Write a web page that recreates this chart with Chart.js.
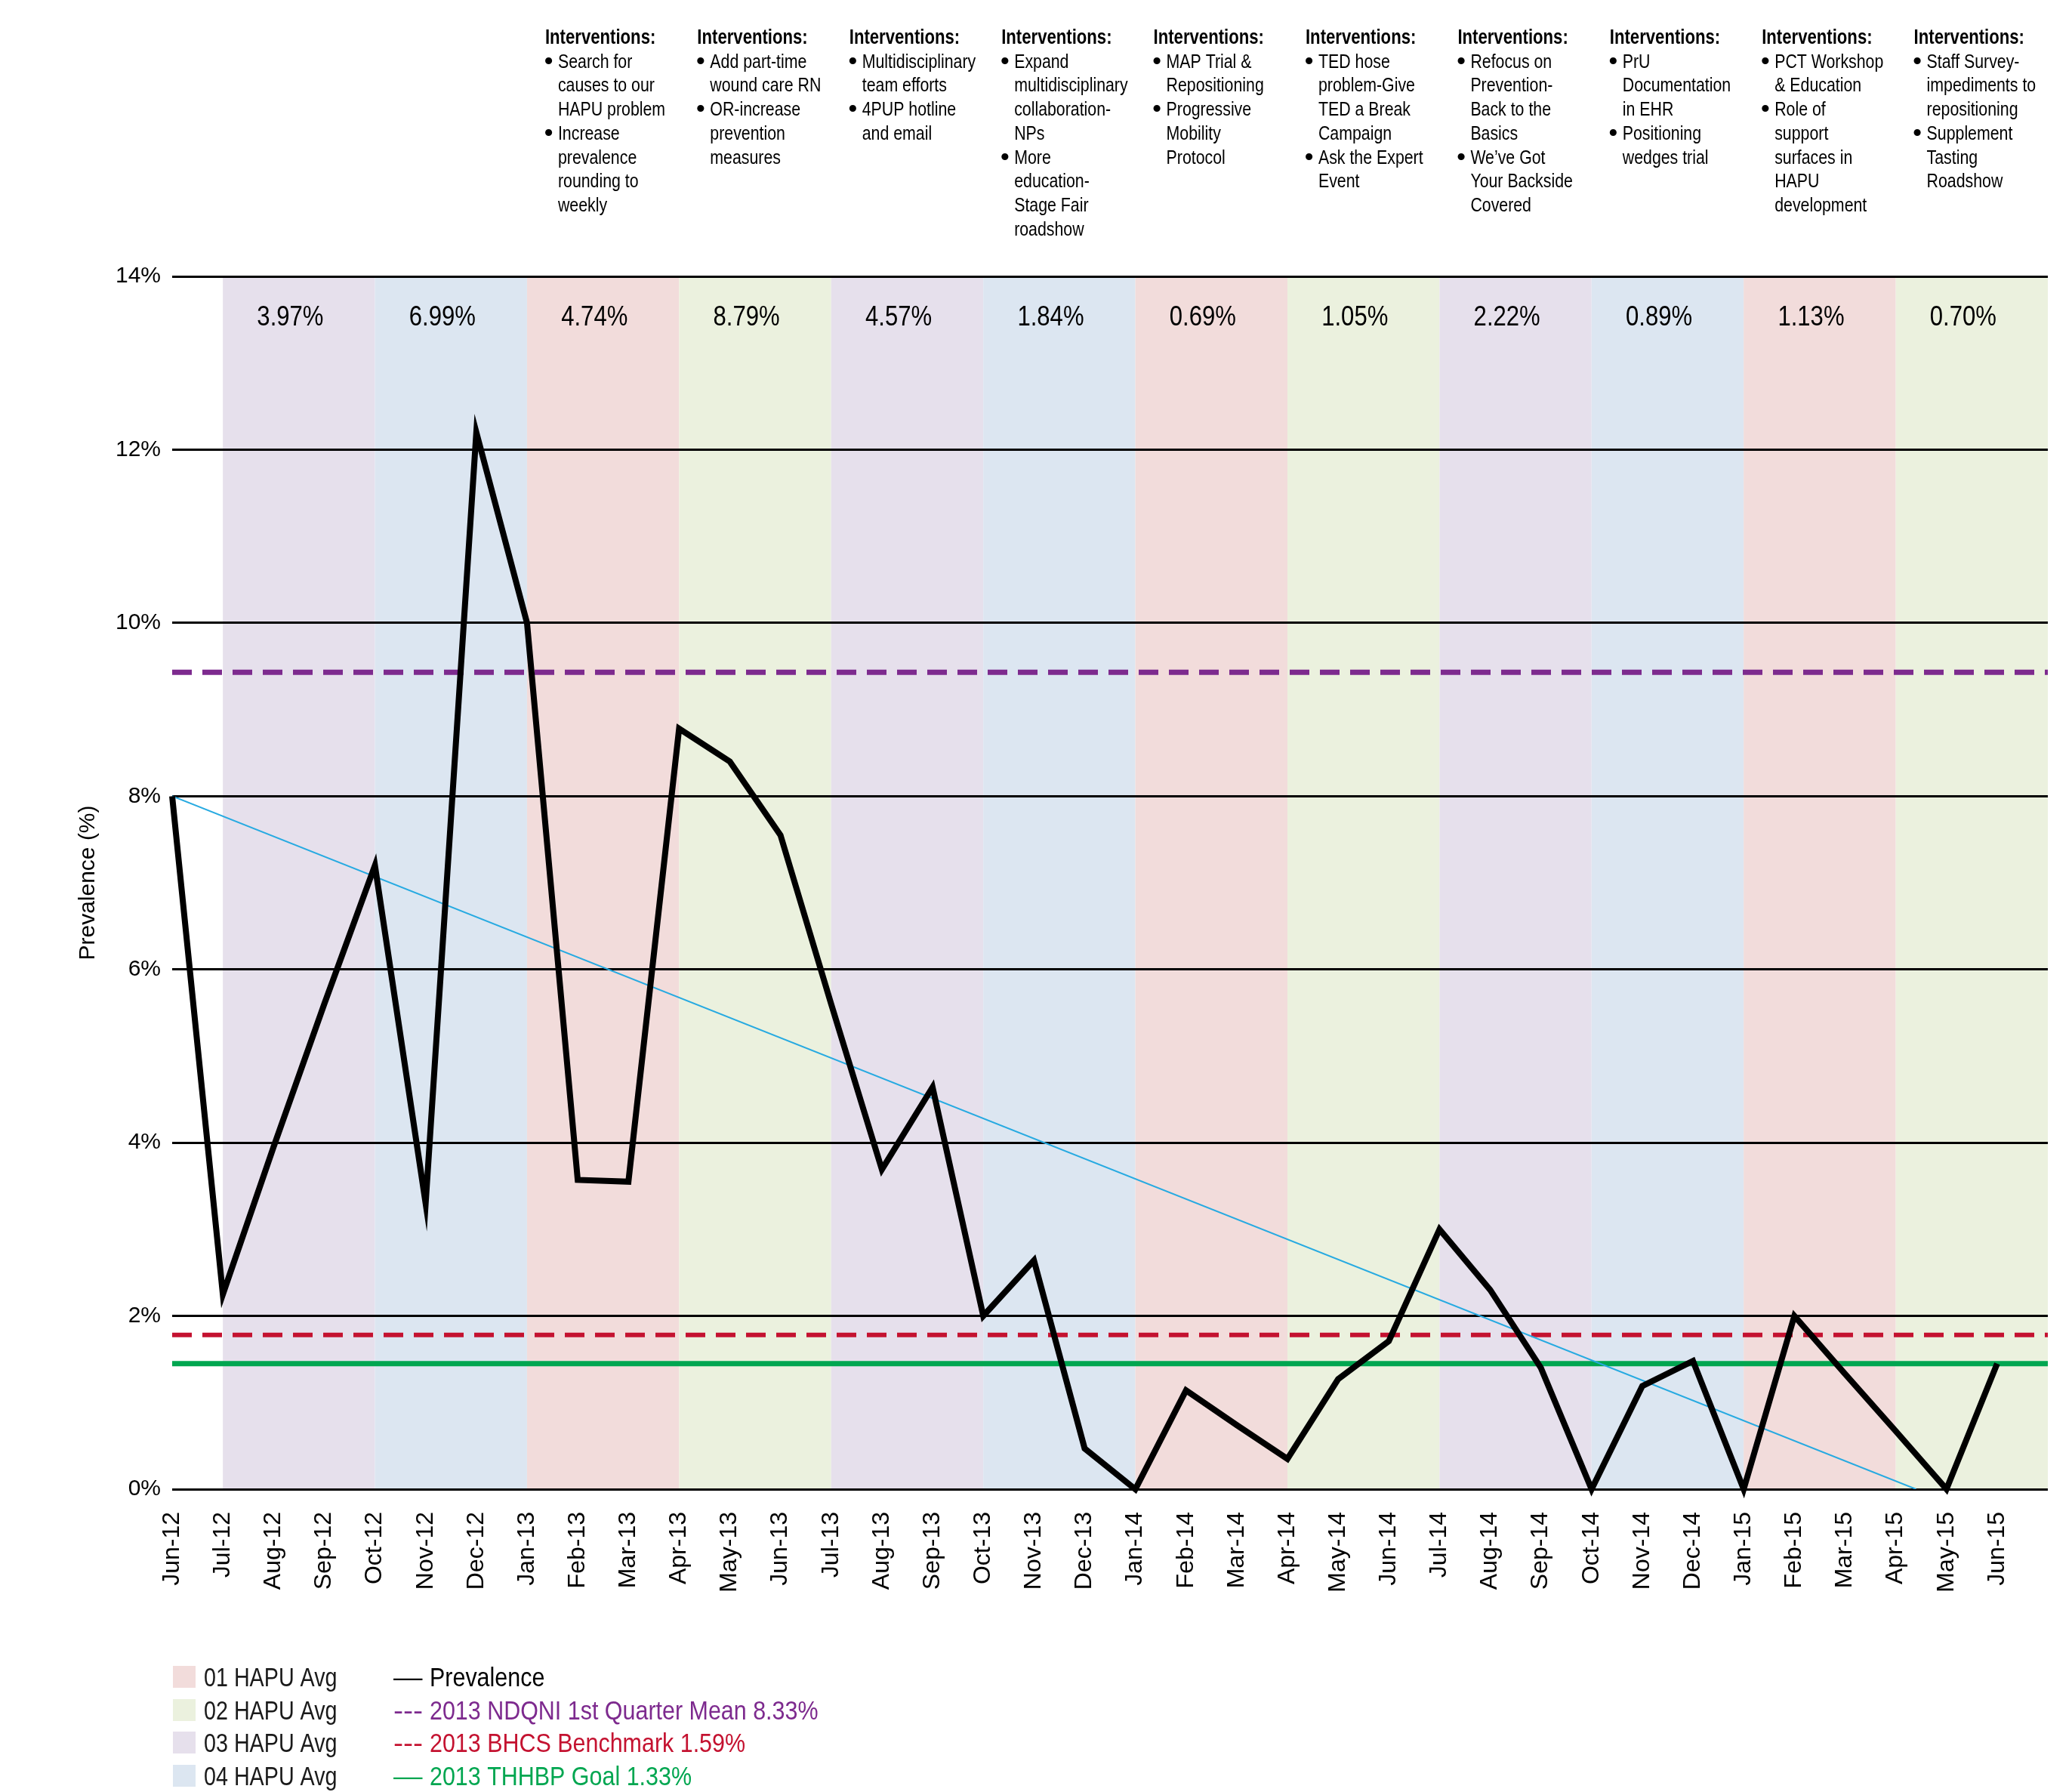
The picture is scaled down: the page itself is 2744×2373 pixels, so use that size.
<!DOCTYPE html>
<html>
<head>
<meta charset="utf-8">
<title>HAPU Prevalence</title>
<script src="https://cdn.jsdelivr.net/npm/chart.js@4.4.1/dist/chart.umd.min.js"></script>
<style>
    html, body { margin: 0; padding: 0; background: #ffffff; }
    #wrap { position: relative; width: 2744px; height: 2373px; }
</style>
</head>
<body>
<div id="wrap"><canvas id="hapuChart"></canvas></div>
<script>
const months = [
    'Jun-12', 'Jul-12', 'Aug-12', 'Sep-12', 'Oct-12', 'Nov-12', 'Dec-12',
    'Jan-13', 'Feb-13', 'Mar-13', 'Apr-13', 'May-13', 'Jun-13', 'Jul-13', 'Aug-13', 'Sep-13', 'Oct-13', 'Nov-13', 'Dec-13',
    'Jan-14', 'Feb-14', 'Mar-14', 'Apr-14', 'May-14', 'Jun-14', 'Jul-14', 'Aug-14', 'Sep-14', 'Oct-14', 'Nov-14', 'Dec-14',
    'Jan-15', 'Feb-15', 'Mar-15', 'Apr-15', 'May-15', 'Jun-15',
];

const prevalence = [
    8.0, 2.25, 3.95, 5.6, 7.2, 3.3, 12.2,
    10.0, 3.57, 3.55, 8.78, 8.4, 7.55, 5.6, 3.69, 4.64, 2.0, 2.64, 0.47,
    0, 1.14, 0.74, 0.35, 1.27, 1.71, 3.0, 2.3, 1.4, 0, 1.19, 1.48,
    0, 2.0, 1.33, 0.67, 0, 1.45,
];

const ndqniMean = 9.43;
const bhcsBenchmark = 1.78;
const thhbpGoal = 1.45;
const trendStart = 8.0;
const trendZeroAt = 34.4;

const yTicks = [0, 2, 4, 6, 8, 10, 12, 14];

const quarterStarts = ['Jul-12', 'Oct-12', 'Jan-13', 'Apr-13', 'Jul-13', 'Oct-13', 'Jan-14', 'Apr-14', 'Jul-14', 'Oct-14', 'Jan-15', 'Apr-15'];
const quarterNames = ['03', '04', '01', '02', '03', '04', '01', '02', '03', '04', '01', '02'];
const quarterAvg = ['3.97%', '6.99%', '4.74%', '8.79%', '4.57%', '1.84%', '0.69%', '1.05%', '2.22%', '0.89%', '1.13%', '0.70%'];

const interventionStarts = ['Jan-13', 'Apr-13', 'Jul-13', 'Oct-13', 'Jan-14', 'Apr-14', 'Jul-14', 'Oct-14', 'Jan-15', 'Apr-15'];
const interventions = [
    [['Search for', 'causes to our', 'HAPU problem'], ['Increase', 'prevalence', 'rounding to', 'weekly']],
    [['Add part-time', 'wound care RN'], ['OR-increase', 'prevention', 'measures']],
    [['Multidisciplinary', 'team efforts'], ['4PUP hotline', 'and email']],
    [['Expand', 'multidisciplinary', 'collaboration-', 'NPs'], ['More', 'education-', 'Stage Fair', 'roadshow']],
    [['MAP Trial &', 'Repositioning'], ['Progressive', 'Mobility', 'Protocol']],
    [['TED hose', 'problem-Give', 'TED a Break', 'Campaign'], ['Ask the Expert', 'Event']],
    [['Refocus on', 'Prevention-', 'Back to the', 'Basics'], ['We\u2019ve Got', 'Your Backside', 'Covered']],
    [['PrU', 'Documentation', 'in EHR'], ['Positioning', 'wedges trial']],
    [['PCT Workshop', '& Education'], ['Role of', 'support', 'surfaces in', 'HAPU', 'development']],
    [['Staff Survey-', 'impediments to', 'repositioning'], ['Supplement', 'Tasting', 'Roadshow']],
];

const quarterLegend = ['01', '02', '03', '04'];
const lineLegend = [
    { mark: '\u2014', text: 'Prevalence', color: '#000000' },
    { mark: '---', text: '2013 NDQNI 1st Quarter Mean 8.33%', color: '#7d2a8e' },
    { mark: '---', text: '2013 BHCS Benchmark 1.59%', color: '#c41230' },
    { mark: '\u2014', text: '2013 THHBP Goal 1.33%', color: '#00a650' },
];

const SANS = '"Liberation Sans", Arial, sans-serif';

const bandColors = {
    '01': '#f2dcdb',
    '02': '#ebf1de',
    '03': '#e6e0ec',
    '04': '#dce6f1',
};

function flatLine(value) {
    return [{ x: 0, y: value }, { x: months.length, y: value }];
}

// no condensed face is installed, so squeeze Liberation Sans horizontally
function narrowText(ctx, text, x, y, font, align, squeeze) {
    ctx.save();
    ctx.font = font;
    ctx.textAlign = align;
    ctx.translate(x, y);
    ctx.scale(squeeze, 1);
    ctx.fillText(text, 0, 0);
    ctx.restore();
}

const hapuDecor = {
    id: 'hapuDecor',
    beforeDraw(chart) {
        const { ctx } = chart;
        const { x, y } = chart.scales;
        const top = y.getPixelForValue(14);
        const bottom = y.getPixelForValue(0);

        ctx.save();
        quarterStarts.forEach((start, i) => {
            const s = months.indexOf(start);
            const left = x.getPixelForValue(s);
            const right = x.getPixelForValue(s + 3);
            ctx.fillStyle = bandColors[quarterNames[i]];
            ctx.fillRect(left, top + 1, right - left, bottom - top - 1);
        });
        ctx.restore();
    },
    afterDraw(chart) {
        const { ctx, chartArea } = chart;
        const { x, y } = chart.scales;

        ctx.save();
        ctx.fillStyle = '#000000';
        ctx.textBaseline = 'alphabetic';

        // quarter averages inside each band
        quarterStarts.forEach((start, i) => {
            const s = months.indexOf(start);
            narrowText(ctx, quarterAvg[i], x.getPixelForValue(s + 1.33), y.getPixelForValue(14) + 65,
                `37px ${SANS}`, 'center', 0.84);
        });

        // interventions columns above the plot
        const lineStep = 31.7;
        interventionStarts.forEach((start, i) => {
            const colX = x.getPixelForValue(months.indexOf(start)) + 24;
            let lineY = chartArea.top - 308;
            narrowText(ctx, 'Interventions:', colX, lineY, `bold 27px ${SANS}`, 'left', 0.82);
            interventions[i].forEach((item) => {
                item.forEach((line, j) => {
                    lineY += lineStep;
                    if (j === 0) {
                        narrowText(ctx, '\u2022', colX - 1, lineY + 1, `bold 32px ${SANS}`, 'left', 1);
                    }
                    narrowText(ctx, line, colX + 17, lineY, `26px ${SANS}`, 'left', 0.82);
                });
            });
        });

        // legend
        const rowY = [2233, 2277, 2320, 2364];
        quarterLegend.forEach((q, i) => {
            ctx.fillStyle = bandColors[q];
            ctx.fillRect(229, rowY[i] - 27, 30, 29);
            ctx.fillStyle = '#1a1a1a';
            narrowText(ctx, `${q} HAPU Avg`, 270, rowY[i], `35px ${SANS}`, 'left', 0.82);
        });
        lineLegend.forEach((item, i) => {
            ctx.fillStyle = item.color;
            narrowText(ctx, item.mark, 521, rowY[i], `35px ${SANS}`, 'left', item.mark === '---' ? 1.12 : 1.1);
            narrowText(ctx, item.text, 569, rowY[i], `35px ${SANS}`, 'left', 0.87);
        });

        ctx.restore();
    },
};

const canvas = document.getElementById('hapuChart');

new Chart(canvas, {
    type: 'line',
    data: {
        datasets: [
            {
                label: 'Prevalence',
                data: prevalence.map((v, i) => ({ x: i, y: v })),
                borderColor: '#000000',
                borderWidth: 8,
                borderJoinStyle: 'miter',
                pointRadius: 0,
                tension: 0,
                clip: false,
            },
            {
                label: 'Trend',
                data: [{ x: 0, y: trendStart }, { x: trendZeroAt, y: 0 }],
                borderColor: '#27aae1',
                borderWidth: 2,
                pointRadius: 0,
            },
            {
                label: '2013 NDQNI 1st Quarter Mean 8.33%',
                data: flatLine(ndqniMean),
                borderColor: '#7d2a8e',
                borderWidth: 7,
                borderDash: [26, 14],
                pointRadius: 0,
            },
            {
                label: '2013 BHCS Benchmark 1.59%',
                data: flatLine(bhcsBenchmark),
                borderColor: '#c41230',
                borderWidth: 6,
                borderDash: [26, 14],
                pointRadius: 0,
            },
            {
                label: '2013 THHBP Goal 1.33%',
                data: flatLine(thhbpGoal),
                borderColor: '#00a650',
                borderWidth: 7,
                pointRadius: 0,
            },
        ],
    },
    options: {
        responsive: true,
        maintainAspectRatio: false,
        animation: false,
        layout: {
            padding: { top: 366, right: 32, bottom: 0, left: 0 },
        },
        plugins: {
            legend: { display: false },
            tooltip: { enabled: false },
        },
        scales: {
            x: {
                type: 'linear',
                min: 0,
                max: months.length,
                afterFit: (scale) => {
                    scale.height = 401;
                },
                afterBuildTicks: (scale) => {
                    scale.ticks = months.map((m, i) => ({ value: i }));
                },
                grid: { display: false, drawTicks: false },
                border: { display: false },
                ticks: {
                    autoSkip: false,
                    minRotation: 90,
                    maxRotation: 90,
                    padding: 30,
                    color: '#000000',
                    font: { family: SANS, size: 32 },
                    callback: (value) => months[value] ?? '',
                },
            },
            y: {
                min: 0,
                max: 14,
                afterFit: (scale) => {
                    scale.width = 228;
                },
                afterBuildTicks: (scale) => {
                    scale.ticks = yTicks.map((v) => ({ value: v }));
                },
                grid: { color: '#000000', lineWidth: 3, drawTicks: false },
                border: { display: false },
                ticks: {
                    padding: 15,
                    color: '#000000',
                    font: { family: SANS, size: 30 },
                    callback: (value) => `${value}%`,
                },
                title: {
                    display: true,
                    text: 'Prevalence (%)',
                    color: '#000000',
                    font: { family: SANS, size: 30 },
                    padding: { top: 99, bottom: 0 },
                },
            },
        },
    },
    plugins: [hapuDecor],
});
</script>
</body>
</html>
